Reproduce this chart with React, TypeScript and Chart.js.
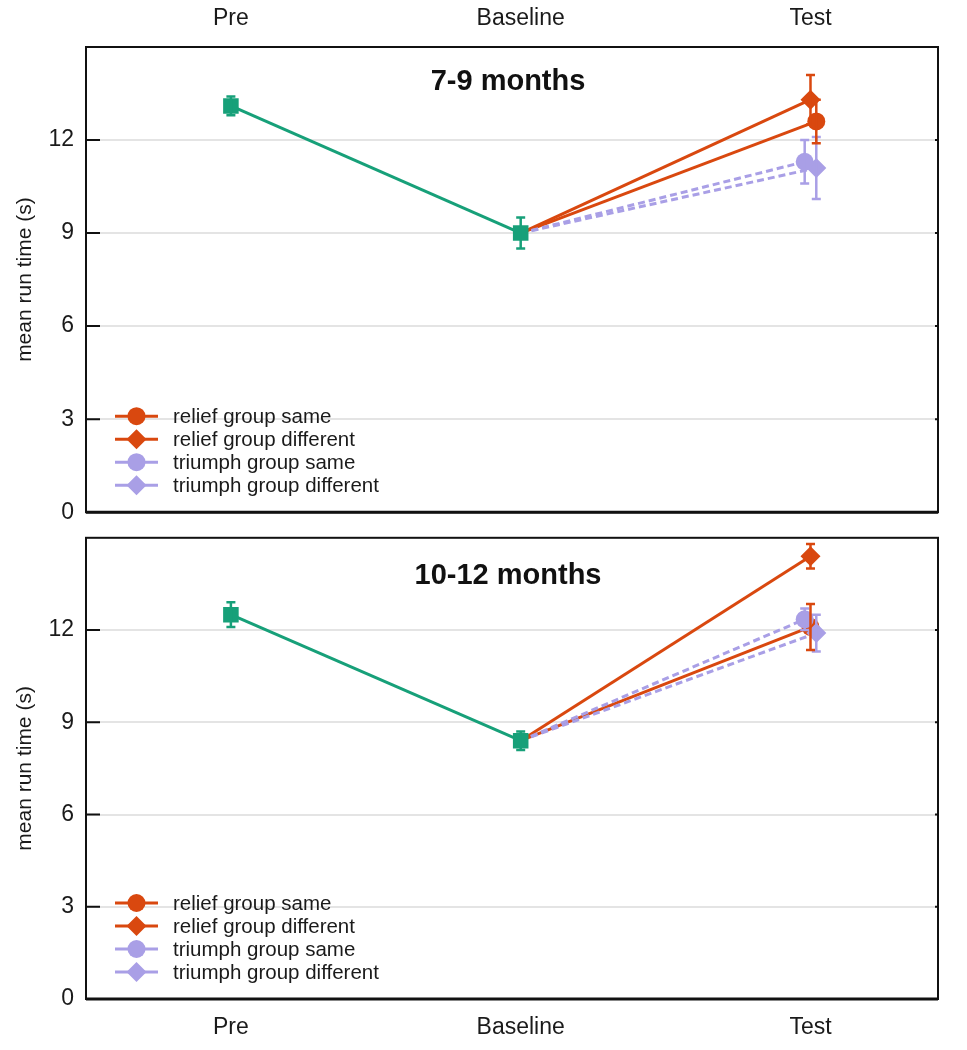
import React, { useEffect, useRef } from 'react';
import { Chart, registerables } from 'chart.js';

Chart.register(...registerables);

// ---------- data ----------
const xLabels = ['Pre', 'Baseline', 'Test'];
const panelTitles = ['7-9 months', '10-12 months'];
const seriesNames = [
  'relief group same',
  'relief group different',
  'triumph group same',
  'triumph group different',
];

// 7-9 months
const preBase79 = [13.1, 9.0];
const preBaseErr79 = [0.3, 0.5];
const test79 = [12.6, 13.3, 11.3, 11.1];
const testErr79 = [0.7, 0.8, 0.7, 1.0];
const testX79 = [2.02, 2.0, 1.98, 2.02];

// 10-12 months
const preBase1012 = [12.5, 8.4];
const preBaseErr1012 = [0.4, 0.3];
const test1012 = [12.1, 14.4, 12.35, 11.9];
const testErr1012 = [0.75, 0.4, 0.35, 0.6];
const testX1012 = [2.0, 2.0, 1.98, 2.02];

const yTicks = [0, 3, 6, 9, 12];

// ---------- styles ----------
const GREEN = '#17a079';
const RED = '#d9480f';
const LAV = '#a99fe6';
const seriesColors = [RED, RED, LAV, LAV];
const seriesPoint = ['circle', 'rectRot', 'circle', 'rectRot'];
const seriesRadius = [9, 10, 9, 10];
const seriesDash = [[], [], [7, 4], [7, 4]];
const FONT = "'Liberation Sans', Arial, Helvetica, sans-serif";
const TEXT = '#1a1a1a';

const panelData = [
  { pb: preBase79, pbErr: preBaseErr79, t: test79, tErr: testErr79, tx: testX79 },
  { pb: preBase1012, pbErr: preBaseErr1012, t: test1012, tErr: testErr1012, tx: testX1012 },
];

const errorBarPlugin = {
  id: 'errorBars',
  afterDatasetsDraw(chart: any) {
    const { ctx } = chart;
    const yScale = chart.scales.y;
    chart.data.datasets.forEach((ds: any, di: number) => {
      const meta = chart.getDatasetMeta(di);
      ds.data.forEach((pt: any, j: number) => {
        const e = ds.errs ? ds.errs[j] : 0;
        if (!e) return;
        const el = meta.data[j];
        const x = el.x;
        const yt = yScale.getPixelForValue(pt.y + e);
        const yb = yScale.getPixelForValue(pt.y - e);
        ctx.save();
        ctx.strokeStyle = ds.borderColor;
        ctx.lineWidth = 2.5;
        ctx.setLineDash([]);
        ctx.beginPath();
        ctx.moveTo(x, yt);
        ctx.lineTo(x, yb);
        ctx.moveTo(x - 4.5, yt);
        ctx.lineTo(x + 4.5, yt);
        ctx.moveTo(x - 4.5, yb);
        ctx.lineTo(x + 4.5, yb);
        ctx.stroke();
        ctx.restore();
      });
    });
  },
};

const framePlugin = {
  id: 'frame',
  afterDraw(chart: any) {
    const { ctx, chartArea: a } = chart;
    const yScale = chart.scales.y;
    const panel = chart.options.plugins.frame.panel;
    ctx.save();
    // ticks inward on left
    ctx.strokeStyle = '#111';
    ctx.lineWidth = 2;
    ctx.beginPath();
    yTicks.forEach((v) => {
      if (v === 0) return;
      const y = yScale.getPixelForValue(v);
      ctx.moveTo(a.left, y);
      ctx.lineTo(a.left + 14, y);
      ctx.moveTo(a.right, y);
      ctx.lineTo(a.right - 3, y);
    });
    ctx.stroke();
    // frame
    ctx.lineWidth = 2;
    ctx.strokeRect(a.left, a.top, a.right - a.left, a.bottom - a.top);
    ctx.lineWidth = 3;
    ctx.beginPath();
    ctx.moveTo(a.left, a.bottom);
    ctx.lineTo(a.right, a.bottom);
    ctx.stroke();

    // panel title
    ctx.fillStyle = '#111';
    ctx.font = `bold 29px ${FONT}`;
    ctx.textAlign = 'center';
    ctx.textBaseline = 'middle';
    ctx.fillText(panelTitles[panel], (a.left + a.right) / 2 - 4, a.top + (panel === 0 ? 35 : 38));

    // legend
    ctx.font = `20.5px ${FONT}`;
    ctx.textAlign = 'left';
    seriesNames.forEach((name, i) => {
      const y = a.bottom - 96 + i * 23;
      const x0 = a.left + 29;
      const x1 = a.left + 72;
      const xm = (x0 + x1) / 2;
      ctx.strokeStyle = seriesColors[i];
      ctx.fillStyle = seriesColors[i];
      ctx.lineWidth = 3;
      ctx.beginPath();
      ctx.moveTo(x0, y);
      ctx.lineTo(x1, y);
      ctx.stroke();
      ctx.beginPath();
      if (seriesPoint[i] === 'circle') {
        ctx.arc(xm, y, 9, 0, Math.PI * 2);
      } else {
        ctx.moveTo(xm, y - 10);
        ctx.lineTo(xm + 10, y);
        ctx.lineTo(xm, y + 10);
        ctx.lineTo(xm - 10, y);
        ctx.closePath();
      }
      ctx.fill();
      ctx.fillStyle = TEXT;
      ctx.fillText(name, a.left + 87, y + 1);
    });
    ctx.restore();
  },
};

function makeConfig(panel: number): any {
  const d = panelData[panel];
  const datasets: any[] = [];
  datasets.push({
    label: 'pre-baseline',
    data: [
      { x: 0, y: d.pb[0] },
      { x: 1, y: d.pb[1] },
    ],
    errs: d.pbErr,
    borderColor: GREEN,
    backgroundColor: GREEN,
    pointStyle: 'rect',
    pointRadius: 11,
    pointBorderWidth: 0,
    borderWidth: 3,
  });
  // triumph drawn above relief: order via array position (index 0 on top)
  [2, 3, 0, 1].forEach((s) => {
    datasets.push({
      label: seriesNames[s],
      data: [
        { x: 1, y: d.pb[1] },
        { x: d.tx[s], y: d.t[s] },
      ],
      errs: [0, d.tErr[s]],
      borderColor: seriesColors[s],
      backgroundColor: seriesColors[s],
      pointStyle: seriesPoint[s],
      pointRadius: [0, seriesRadius[s]],
      pointBorderWidth: 0,
      borderWidth: 3,
      borderDash: seriesDash[s],
    });
  });

  const top = panel === 0;
  return {
    type: 'line',
    data: { datasets },
    plugins: [errorBarPlugin, framePlugin],
    options: {
      animation: false,
      responsive: false,
      events: [],
      layout: { padding: { top: 0, right: 29, bottom: 0, left: 0 } },
      plugins: {
        legend: { display: false },
        tooltip: { enabled: false },
        frame: { panel },
      },
      elements: { line: { tension: 0 } },
      scales: {
        x: {
          type: 'linear',
          position: top ? 'top' : 'bottom',
          min: -0.5,
          max: 2.44,
          afterBuildTicks: (s: any) => {
            s.ticks = xLabels.map((_, i) => ({ value: i }));
          },
          afterFit: (s: any) => {
            s.height = top ? 47 : 51;
          },
          grid: { display: false, drawTicks: false },
          border: { display: false },
          ticks: {
            callback: (v: any) => xLabels[v] ?? '',
            font: { family: FONT, size: 23 },
            color: TEXT,
            padding: 15,
            maxRotation: 0,
          },
        },
        y: {
          type: 'linear',
          min: 0,
          max: 15,
          afterBuildTicks: (s: any) => {
            s.ticks = [...yTicks, 15].map((v) => ({ value: v }));
          },
          afterFit: (s: any) => {
            s.width = 86;
          },
          grid: {
            drawTicks: false,
            lineWidth: 2,
            color: (c: any) => (c.tick && (c.tick.value === 0 || c.tick.value === 15) ? 'rgba(0,0,0,0)' : '#e4e4e4'),
          },
          border: { display: false },
          ticks: {
            callback: (v: any) => (v === 15 ? '' : String(v)),
            font: { family: FONT, size: 23 },
            color: TEXT,
            padding: 12,
          },
          title: {
            display: true,
            text: 'mean run time (s)',
            font: { family: FONT, size: 21 },
            color: TEXT,
            padding: { top: 13, bottom: 0 },
          },
        },
      },
    },
  };
}

function Panel({ panel, height, offset }: { panel: number; height: number; offset: number }) {
  const ref = useRef<HTMLCanvasElement | null>(null);
  useEffect(() => {
    if (!ref.current) return;
    const chart = new Chart(ref.current, makeConfig(panel));
    return () => chart.destroy();
  }, [panel]);
  return (
    <canvas
      ref={ref}
      width={967}
      height={height}
      style={{ display: 'block', position: 'absolute', left: 0, top: offset }}
    />
  );
}

export default function App() {
  return (
    <div style={{ position: 'absolute', left: 0, top: 0, width: 967, height: 1050, background: '#fff' }}>
      <Panel panel={0} height={538} offset={0} />
      <Panel panel={1} height={538} offset={512} />
    </div>
  );
}
